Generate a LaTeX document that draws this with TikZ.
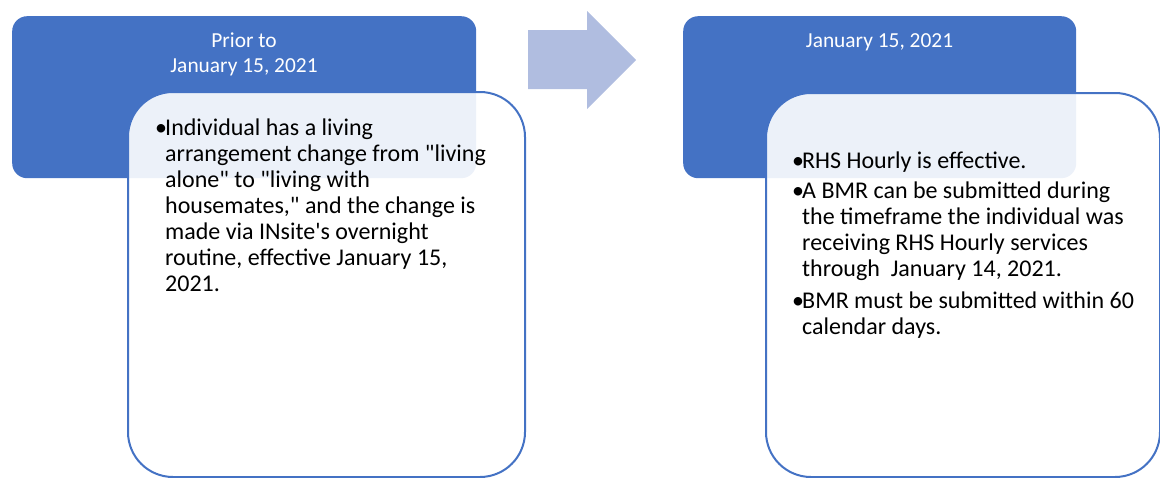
\documentclass[tikz,border=0pt]{standalone}
\usepackage{fontspec}
\newfontfamily\calfont{Carlito}
\definecolor{accent}{HTML}{4472C4}
\definecolor{arrowc}{HTML}{B0BDE0}
\begin{document}
\begin{tikzpicture}[x=1pt,y=-1pt,
  hdr/.style={fill=accent, draw=none, rounded corners=15pt, inner sep=0pt, anchor=north west},
  card/.style={draw=accent, line width=2pt, fill=white, fill opacity=0.9, rounded corners=45pt, inner sep=0pt, anchor=north west},
  hdrtext/.style={text=white, font=\calfont\fontsize{21.4}{25}\selectfont, inner sep=0pt, anchor=base},
  bodytext/.style={text=black, font=\calfont\fontsize{24}{26}\selectfont, inner sep=0pt, anchor=base west},
  blockarrow/.style={fill=arrowc, draw=none}]
\useasboundingbox (0,0) rectangle (1160,477);
% left panel
\node[hdr, minimum width=464pt, minimum height=162pt] (h1) at (12,16) {};
\node[card, minimum width=397pt, minimum height=385pt] (c1) at (127,91) {};
% arrow
\fill[blockarrow] (528,30) -- (587,30) -- (587,11) -- (636,60) -- (587,109) -- (587,89) -- (528,89) -- cycle;
% right panel
\node[hdr, minimum width=393pt, minimum height=162pt] (h2) at (683,16) {};
\node[card, minimum width=394pt, minimum height=384pt] (c2) at (765,92) {};
% header texts
\node[hdrtext] (h1t) at (244,47) {\begin{tabular}[t]{@{}c@{}}Prior to\\January 15, 2021\end{tabular}};
\node[hdrtext] (h2t) at (879.5,47) {\begin{tabular}[t]{@{}c@{}}January 15, 2021\end{tabular}};
% body texts
\node[bodytext] (b1) at (155,135) {\begin{tabular}[t]{@{}l@{}l@{}}
\makebox[10pt][l]{•}&Individual has a living\\
&arrangement change from "living\\
&alone" to "living with\\
&housemates," and the change is\\
&made via INsite's overnight\\
&routine, effective January 15,\\
&2021.
\end{tabular}};
\node[bodytext] (b2) at (792,168) {\begin{tabular}[t]{@{}l@{}l@{}}
\makebox[10pt][l]{•}&RHS Hourly is effective.\\[4pt]
\makebox[10pt][l]{•}&A BMR can be submitted during\\
&the timeframe the individual was\\
&receiving RHS Hourly services\\
&through~~January 14, 2021.\\[6pt]
\makebox[10pt][l]{•}&BMR must be submitted within 60\\
&calendar days.
\end{tabular}};
\end{tikzpicture}
\end{document}
